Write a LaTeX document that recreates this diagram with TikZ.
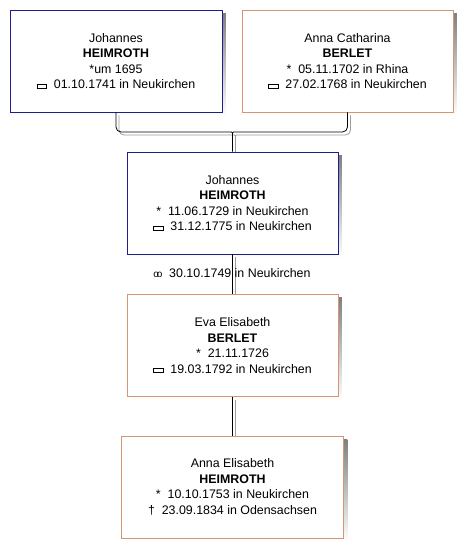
\documentclass[tikz,border=0pt]{standalone}
\usepackage{fontspec}
\setmainfont{Liberation Sans}
\usetikzlibrary{calc, backgrounds}

\definecolor{maleline}{RGB}{30,30,140}
\definecolor{femaleline}{RGB}{214,150,115}
\definecolor{shade}{RGB}{155,155,160}

\newcommand{\born}{*}
\newcommand{\buried}{\raisebox{1.2pt}{\fboxsep0pt\fboxrule0.9pt\fbox{\rule{0pt}{3.2pt}\hspace{8.5pt}}}}
\newcommand{\married}{{\fontsize{10}{10}\selectfont o\kern-2.2pt o}}

\begin{document}
\begin{tikzpicture}[x=1pt, y=-1pt, font=\fontsize{12.4}{15.6}\selectfont,
    person/.style={draw, line width=0.9pt, fill=white, align=center, inner sep=0pt, minimum height=102pt},
    male/.style={person, draw=maleline},
    female/.style={person, draw=femaleline},
    link/.style={draw=black, line width=0.8pt},
    linkshade/.style={draw=shade, line width=0.8pt}]
    \useasboundingbox (0,0) rectangle (472,558);

    \node[male, minimum width=212pt] (father) at (116,61)
        {Johannes\\\textbf{HEIMROTH}\\\born um 1695\\\buried\ \ 01.10.1741 in Neukirchen};
    \node[female, minimum width=211pt] (mother) at (347.5,61)
        {Anna Catharina\\\textbf{BERLET}\\\born\ \ 05.11.1702 in Rhina\\\buried\ \ 27.02.1768 in Neukirchen};
    \node[male, minimum width=211pt] (son) at (232.5,203)
        {Johannes\\\textbf{HEIMROTH}\\\born\ \ 11.06.1729 in Neukirchen\\\buried\ \ 31.12.1775 in Neukirchen};
    \node[female, minimum width=211pt] (wife) at (232.5,345.5)
        {Eva Elisabeth\\\textbf{BERLET}\\\born\ \ 21.11.1726\\\buried\ \ 19.03.1792 in Neukirchen};
    \node[female, minimum width=222pt] (child) at (232.5,487)
        {Anna Elisabeth\\\textbf{HEIMROTH}\\\born\ \ 10.10.1753 in Neukirchen\\\dag\ \ 23.09.1834 in Odensachsen};

    \coordinate (join) at (232.5,132);
    \draw[link, rounded corners=5pt] (father.south) |- ($(join)+(-6,0)$)
        .. controls (join) .. ($(join)+(0,6)$) -- (son.north);
    \draw[link, rounded corners=5pt] (mother.south) |- ($(join)+(6,0)$)
        .. controls (join) .. ($(join)+(0,6)$);
    \draw[link] (son.south) -- (wife.north);
    \draw[link] (wife.south) -- (child.north);

    % marriage
    \node (wedding) at (232,273) {\married\ \ 30.10.1749 in Neukirchen};

    % shadows
    \begin{scope}[on background layer]
        \foreach \n in {father, mother, son, wife, child}
            \fill[shade] ($(\n.north west)+(3.5,3.5)$) rectangle ($(\n.south east)+(3.5,3.5)$);
        \begin{scope}[transform canvas={shift={(3pt,-3pt)}}]
            \draw[linkshade, rounded corners=5pt] (father.south) |- ($(join)+(-6,0)$)
                .. controls (join) .. ($(join)+(0,6)$) -- (son.north);
            \draw[linkshade, rounded corners=5pt] (mother.south) |- ($(join)+(6,0)$)
                .. controls (join) .. ($(join)+(0,6)$);
            \draw[linkshade] (son.south) -- (wife.north);
            \draw[linkshade] (wife.south) -- (child.north);
        \end{scope}
    \end{scope}
\end{tikzpicture}
\end{document}
